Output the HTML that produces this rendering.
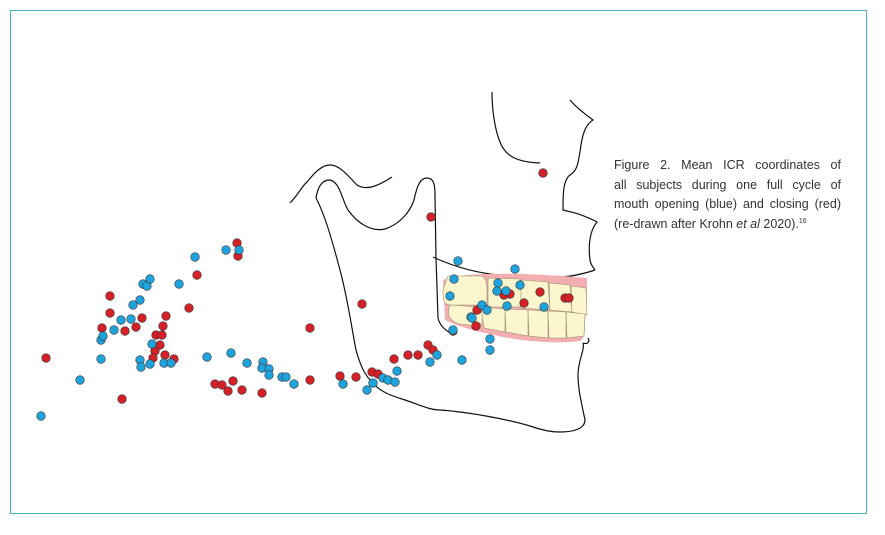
<!DOCTYPE html>
<html><head><meta charset="utf-8"><style>
html,body{margin:0;padding:0;background:#fff;}
body{width:885px;height:535px;overflow:hidden;position:relative;}
svg{position:absolute;left:0;top:0;}
#cap{position:absolute;left:614px;top:156px;width:227px;font-family:"Liberation Sans",Arial,sans-serif;font-size:12.5px;line-height:19.5px;color:#333;}
#cap div{text-align:justify;text-align-last:justify;white-space:nowrap;}
#cap div.l{text-align-last:left;}
sup{font-size:7px;vertical-align:5px;line-height:0;}
</style></head><body>
<svg id="s" width="885" height="535" viewBox="0 0 885 535" xmlns="http://www.w3.org/2000/svg">
<rect x="10.5" y="10.5" width="856" height="503" fill="none" stroke="#3fb3c4" stroke-width="1"/>
<g fill="none" stroke="#111" stroke-width="1.2">
<path d="M290,203 C298,195 302,186 307,182 C315,172 322,165 330,165 C340,165 348,176 357,185 C365,190 375,188 392,177"/>
<path d="M316,198 C318,186 322,180 330,180 C340,182 342,200 348,210 C358,224 372,232 385,229 C400,224 410,212 414,200 C417,186 420,178 427,178 C434,178 435,185 435,195 L436,258 L438,318 C440,326 445,330 452,334"/>
<path d="M316,198 C325,215 332,240 340,270 C348,300 352,330 356,350 C362,372 368,378 372,382 C380,392 392,396 405,400 C420,405 430,410 440,410 C470,412 510,420 530,426 C545,431 552,432 560,432 C575,432 585,428 585,420 C582,405 578,390 578,375 C578,360 585,350 583,343"/>
<path d="M492,92 C492,110 495,130 500,142 C505,155 515,162 540,163"/>
<path d="M570,100 C575,106 582,112 593,120 C585,125 582,135 580,152 C578,162 578,170 570,175 C563,180 563,195 563,210 C570,212 580,213 597,222 C590,230 588,245 590,260 C591,266 594,268 595,270"/>
<path d="M433,257 C450,265 470,271 490,274 C520,279 560,282 595,270"/>
</g>
<path d="M443,280 C460,272 520,272 587,278 L587,300 L585,322 C585,330 585,338 580,341 C560,344 520,342 490,334 C470,330 455,325 445,320 Z" fill="#f2aeb0"/>
<g fill="#fcf6cf" stroke="#9a9070" stroke-width="0.6">
<path d="M448,276 L480,276 C485,276 487,282 487,290 L487,305 L450,305 C443,305 443,298 443,290 Z"/>
<path d="M488,278 L520,279 C522,285 522,300 520,307 L488,307 Z"/>
<path d="M521,280 L548,282 L550,310 L521,308 Z"/>
<path d="M549,283 L570,285 L572,312 L550,310 Z"/>
<path d="M571,286 L586,288 L587,315 L572,312 Z"/>
<path d="M450,305 L480,307 C484,310 484,320 480,326 L460,324 C450,322 446,315 450,305 Z"/>
<path d="M481,307 L505,309 L505,332 L484,328 Z"/>
<path d="M505,309 L528,310 L528,336 L506,332 Z"/>
<path d="M528,310 L548,311 L548,338 L529,336 Z"/>
<path d="M548,311 L566,312 L566,338 L549,338 Z"/>
<path d="M566,312 L585,314 L584,336 L567,338 Z"/>
</g>
<path d="M583,343 C588,345 590,341 588,338" fill="none" stroke="#111" stroke-width="1.2"/>
<g id="dots" stroke="#333" stroke-width="0.6"></g>
</svg>
<div id="cap"><div>Figure 2. Mean ICR coordinates of</div><div>all subjects during one full cycle of</div><div>mouth opening (blue) and closing (red)</div><div class="l">(re-drawn after Krohn <i>et al</i> 2020).<sup>16</sup></div></div>
<script>
var red=[[46,358],[237,243],[238,256],[197,275],[110,296],[110,313],[102,328],[125,331],[142,318],[136,327],[166,316],[163,326],[156,335],[162,335],[160,345],[155,351],[153,358],[165,355],[174,359],[189,308],[122,399],[215,384],[222,385],[233,381],[228,391],[242,390],[262,393],[310,380],[340,376],[356,377],[372,372],[378,374],[362,304],[310,328],[394,359],[418,355],[543,173],[431,217],[428,345],[433,350],[408,355],[504,295],[510,294],[524,303],[540,292],[565,298],[569,298],[476,326],[477,310],[453,331]];
var blue=[[41,416],[80,380],[101,359],[101,340],[103,336],[114,330],[121,320],[131,319],[140,300],[133,305],[143,284],[147,286],[150,279],[179,284],[195,257],[226,250],[239,250],[152,344],[140,360],[141,367],[150,364],[164,363],[171,363],[207,357],[231,353],[247,363],[263,362],[262,368],[269,369],[269,375],[282,377],[286,377],[294,384],[343,384],[367,390],[373,383],[383,378],[388,380],[397,371],[395,382],[458,261],[515,269],[454,279],[498,283],[497,291],[506,291],[520,285],[450,296],[544,307],[507,306],[482,305],[487,310],[471,317],[472,318],[453,330],[490,339],[490,350],[462,360],[437,355],[430,362]];
var g=document.getElementById('dots'),h='';
red.forEach(function(p){h+='<circle cx="'+p[0]+'" cy="'+p[1]+'" r="4.3" fill="#d42027"/>';});
blue.forEach(function(p){h+='<circle cx="'+p[0]+'" cy="'+p[1]+'" r="4.3" fill="#1fa3dc"/>';});
g.innerHTML=h;
</script>
</body></html>
